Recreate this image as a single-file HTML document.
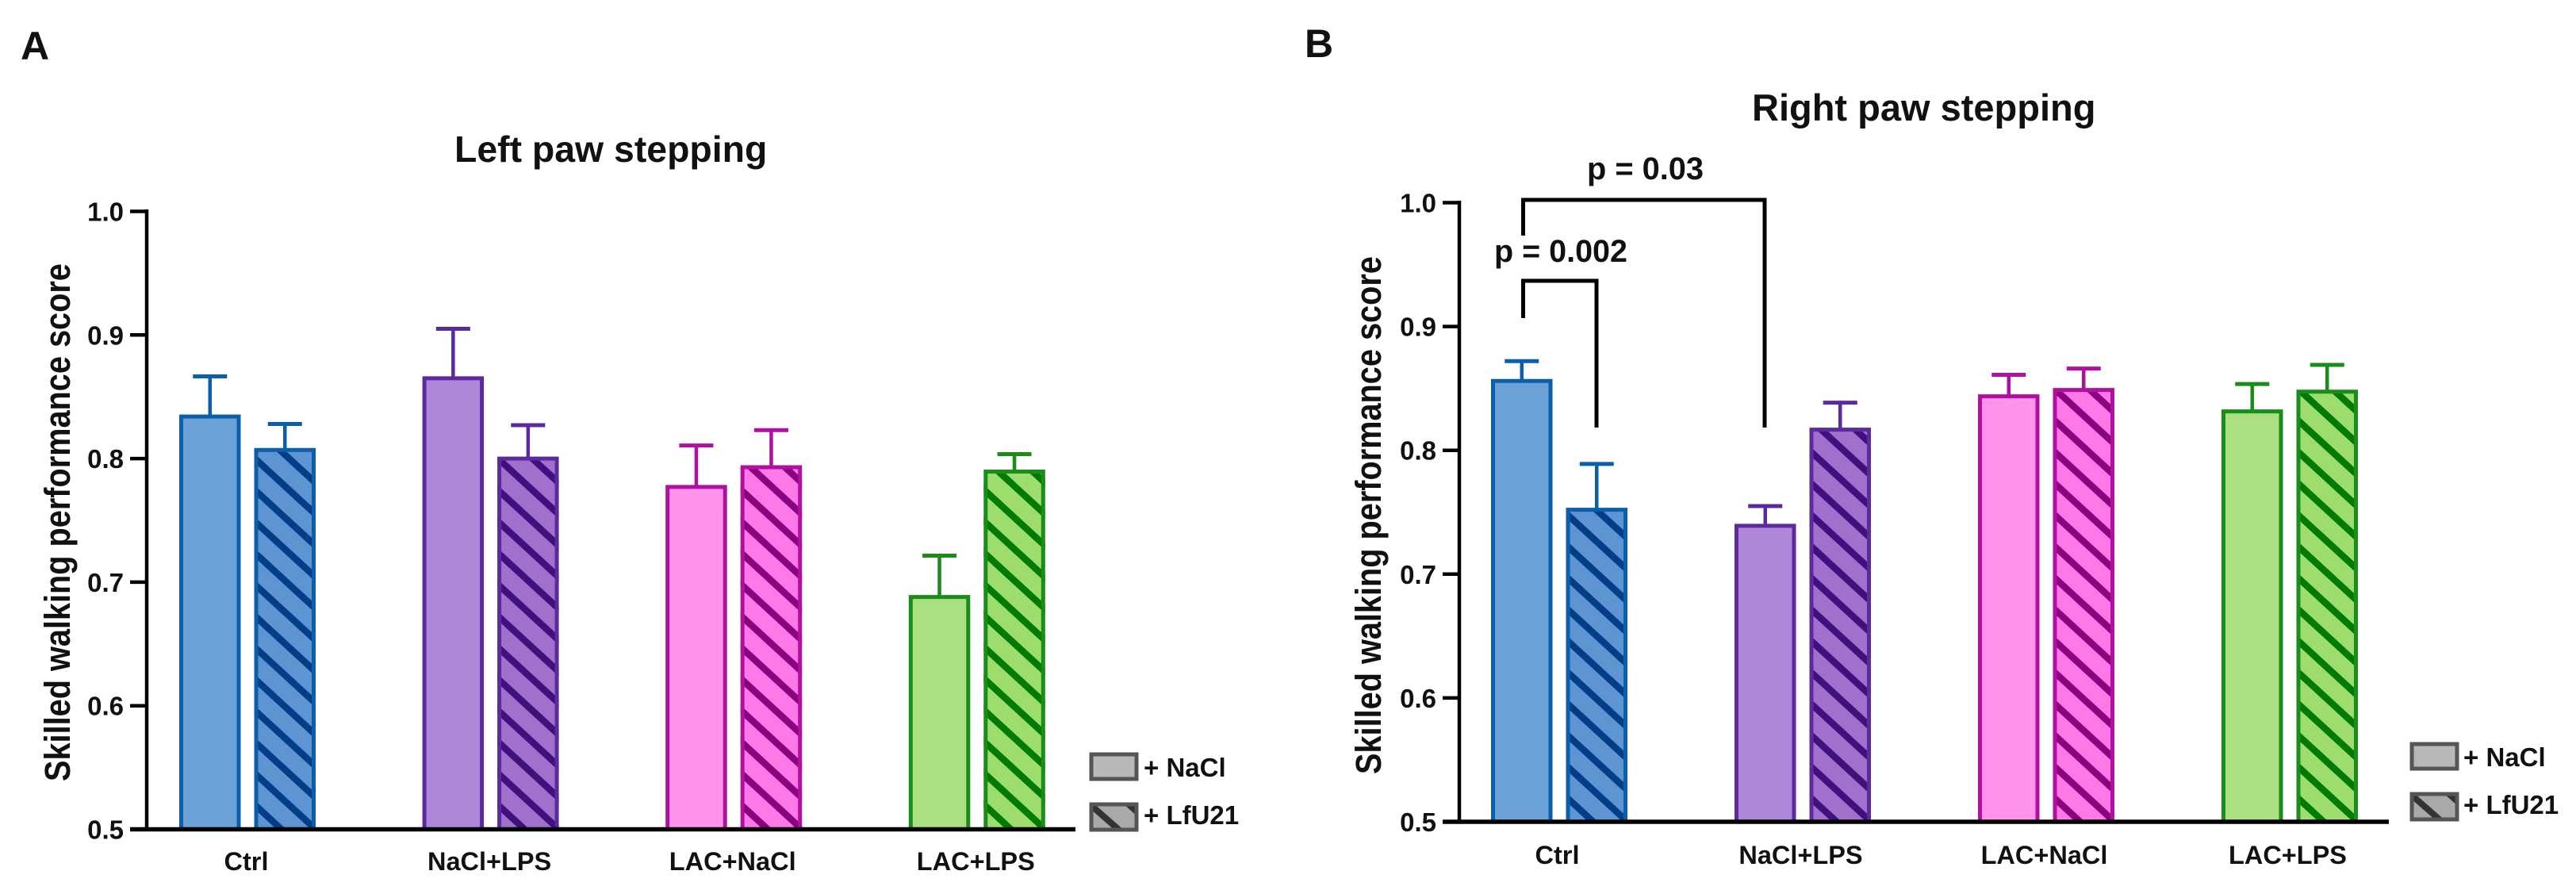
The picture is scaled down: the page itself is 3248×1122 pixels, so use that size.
<!DOCTYPE html>
<html lang="en">
<head>
<meta charset="utf-8">
<title>Skilled walking performance</title>
<style>
html,body{margin:0;padding:0;background:#fff;width:3248px;height:1122px;overflow:hidden}
svg{display:block}
text{font-family:"Liberation Sans",Arial,sans-serif;font-weight:700;fill:#111}
</style>
</head>
<body>
<svg id="figure" xmlns="http://www.w3.org/2000/svg" width="3248" height="1122" viewBox="0 0 3248 1122">
  <rect x="0" y="0" width="3248" height="1122" fill="#ffffff"/>
  <text x="26" y="75" font-size="50" fill="#222">A</text>
  <text x="1645" y="72" font-size="50" fill="#222">B</text>
  <text x="573" y="204" font-size="46.4">Left paw stepping</text>
  <text x="2209" y="152" font-size="47">Right paw stepping</text>
  <text transform="translate(88 985) rotate(-90) scale(1 1.15)" font-size="39.7">Skilled walking performance score</text>
  <text transform="translate(1741 976) rotate(-90) scale(1 1.15)" font-size="39.7">Skilled walking performance score</text>

  <g fill="none" stroke="#000" stroke-width="5">
    <path d="M1920.5 297V252H2225V539"/>
    <path d="M1920.5 401V354H2013V539"/>
  </g>
  <text x="2001" y="226" font-size="40" textLength="147" lengthAdjust="spacingAndGlyphs">p = 0.03</text>
  <text x="1884" y="330" font-size="40" textLength="168" lengthAdjust="spacingAndGlyphs">p = 0.002</text>

  <g>
    <rect x="1376" y="951" width="57" height="31" fill="#b8b8b8" stroke="#555" stroke-width="5"/>
    <text x="1442" y="979" font-size="33">+ NaCl</text>
    <clipPath id="legend-clip-a"><rect x="1376" y="1014" width="57" height="32"/></clipPath>
    <rect x="1376" y="1014" width="57" height="32" fill="#a9a9a9"/>
    <path clip-path="url(#legend-clip-a)" d="M1372 1012L1422 1056M1414 1006L1450 1038" stroke="#333" stroke-width="8" fill="none"/>
    <rect x="1376" y="1014" width="57" height="32" fill="none" stroke="#555" stroke-width="5"/>
    <text x="1442" y="1039" font-size="33">+ LfU21</text>
  </g>
  <g>
    <rect x="3041" y="938" width="57" height="31" fill="#b8b8b8" stroke="#555" stroke-width="5"/>
    <text x="3106" y="966" font-size="33">+ NaCl</text>
    <clipPath id="legend-clip-b"><rect x="3041" y="1001" width="57" height="32"/></clipPath>
    <rect x="3041" y="1001" width="57" height="32" fill="#a9a9a9"/>
    <path clip-path="url(#legend-clip-b)" d="M3037 999L3087 1043M3079 993L3115 1025" stroke="#333" stroke-width="8" fill="none"/>
    <rect x="3041" y="1001" width="57" height="32" fill="none" stroke="#555" stroke-width="5"/>
    <text x="3106" y="1026" font-size="33">+ LfU21</text>
  </g>
</svg>
<script>
const categories = ['Ctrl', 'NaCl+LPS', 'LAC+NaCl', 'LAC+LPS'];
const yTicks = [0.5, 0.6, 0.7, 0.8, 0.9, 1.0];
const yTickLabels = ['0.5', '0.6', '0.7', '0.8', '0.9', '1.0'];

const leftNaclMeans = [0.834, 0.865, 0.777, 0.688];
const leftNaclErrorTops = [0.8665, 0.905, 0.8106, 0.7214];
const leftLfu21Means = [0.807, 0.800, 0.793, 0.7895];
const leftLfu21ErrorTops = [0.828, 0.827, 0.823, 0.8036];

const rightNaclMeans = [0.856, 0.739, 0.8436, 0.8314];
const rightNaclErrorTops = [0.872, 0.755, 0.861, 0.8535];
const rightLfu21Means = [0.752, 0.8167, 0.8487, 0.8474];
const rightLfu21ErrorTops = [0.789, 0.8385, 0.866, 0.869];

const groupColors = [
  {fill:'#6ca1d8', hatchFill:'#5f94d2', stroke:'#0b5fa8', stripe:'#003f88'},
  {fill:'#ae88d8', hatchFill:'#a070cc', stroke:'#5c2a9e', stripe:'#40107f'},
  {fill:'#ff94ec', hatchFill:'#ff78e8', stroke:'#b010a0', stripe:'#8b007e'},
  {fill:'#abe081', hatchFill:'#9cdd6e', stroke:'#1a8c1a', stripe:'#007a00'}
];

const NS = 'http://www.w3.org/2000/svg';
const svg = document.getElementById('figure');

function make(parent, tag, attrs) {
  const el = document.createElementNS(NS, tag);
  for (const k in attrs) el.setAttribute(k, attrs[k]);
  parent.appendChild(el);
  return el;
}

function drawPanel(panel) {
  const yScale = v => panel.baseline - (v - 0.5) * panel.pxPerUnit;
  const xScale = i => panel.firstBarX + panel.groupStep * i;
  const barW = 77.5, pairStep = 94.5, sw = 5;

  const root = make(svg, 'g', {});
  
  

  categories.forEach((cat, i) => {
    [0, 1].forEach(series => {
      const hatched = series === 1;
      const mean = hatched ? panel.lfu[i] : panel.nacl[i];
      const errTop = hatched ? panel.lfuErr[i] : panel.naclErr[i];
      const c = groupColors[i];
      const x = xScale(i) + series * pairStep;
      const cx = x + barW / 2;
      const top = yScale(mean);
      const bottom = panel.baseline;

      const g = make(root, 'g', {});
      
      

      make(g, 'line', {x1: cx, x2: cx, y1: yScale(errTop), y2: top, stroke: c.stroke, 'stroke-width': 4.5});
      make(g, 'line', {x1: cx - 21.5, x2: cx + 21.5, y1: yScale(errTop), y2: yScale(errTop), stroke: c.stroke, 'stroke-width': 5});
      make(g, 'rect', {x: x + sw / 2, y: top, width: barW - sw, height: bottom - top, fill: hatched ? c.hatchFill : c.fill});

      if (hatched) {
        const clipId = 'clip-' + panel.key + '-' + i;
        const clip = make(g, 'clipPath', {id: clipId});
        make(clip, 'rect', {x: x, y: top, width: barW, height: bottom - top});
        const slope = 0.92, spacing = 39.7, xl = x + sw;
        let d = '';
        for (let up = 27 - spacing * 2; up < bottom - top + 120; up += spacing) {
          const y0 = bottom - up;
          d += 'M' + (xl - 10) + ' ' + (y0 - 10 * slope) + 'L' + (xl + barW + 10) + ' ' + (y0 + (barW + 10) * slope);
        }
        make(g, 'path', {d: d, stroke: c.stripe, 'stroke-width': 8.5, fill: 'none', 'clip-path': 'url(#' + clipId + ')'});
      }

      make(g, 'path', {
        d: 'M' + (x + sw / 2) + ' ' + bottom + 'V' + top + 'H' + (x + barW - sw / 2) + 'V' + bottom,
        fill: 'none', stroke: c.stroke, 'stroke-width': sw
      });
    });

    const label = make(root, 'text', {x: xScale(i) + panel.labelOffset, y: panel.baseline + panel.labelDy, 'font-size': 32.5, 'text-anchor': 'middle'});
    
    
    label.textContent = cat;
  });

  const yAxis = make(root, 'line', {x1: panel.axisX, x2: panel.axisX, y1: yScale(1.0) - 2.5, y2: panel.baseline, stroke: '#000', 'stroke-width': 4.5});
  
  

  const xAxis = make(root, 'line', {x1: panel.axisX - 21, x2: panel.axisEnd, y1: panel.baseline, y2: panel.baseline, stroke: '#000', 'stroke-width': 5.5});
  
  

  yTicks.forEach((t, i) => {
    const y = yScale(t);
    const tick = make(root, 'line', {x1: panel.axisX - 21, x2: panel.axisX, y1: y, y2: y, stroke: '#000', 'stroke-width': 4.5});
    
    
    const lab = make(root, 'text', {x: panel.axisX - 29, y: y + 12, 'font-size': 33, 'text-anchor': 'end'});
    
    
    lab.textContent = yTickLabels[i];
  });
}

drawPanel({
  key: 'left', baseline: 1045.5, pxPerUnit: 1558, axisX: 185, axisEnd: 1356,
  firstBarX: 226, groupStep: 306.6, labelOffset: 84.5, labelDy: 51.5,
  nacl: leftNaclMeans, naclErr: leftNaclErrorTops, lfu: leftLfu21Means, lfuErr: leftLfu21ErrorTops
});
drawPanel({
  key: 'right', baseline: 1036, pxPerUnit: 1561, axisX: 1840, axisEnd: 3012,
  firstBarX: 1880, groupStep: 307, labelOffset: 83.5, labelDy: 53,
  nacl: rightNaclMeans, naclErr: rightNaclErrorTops, lfu: rightLfu21Means, lfuErr: rightLfu21ErrorTops
});
</script>
</body>
</html>
